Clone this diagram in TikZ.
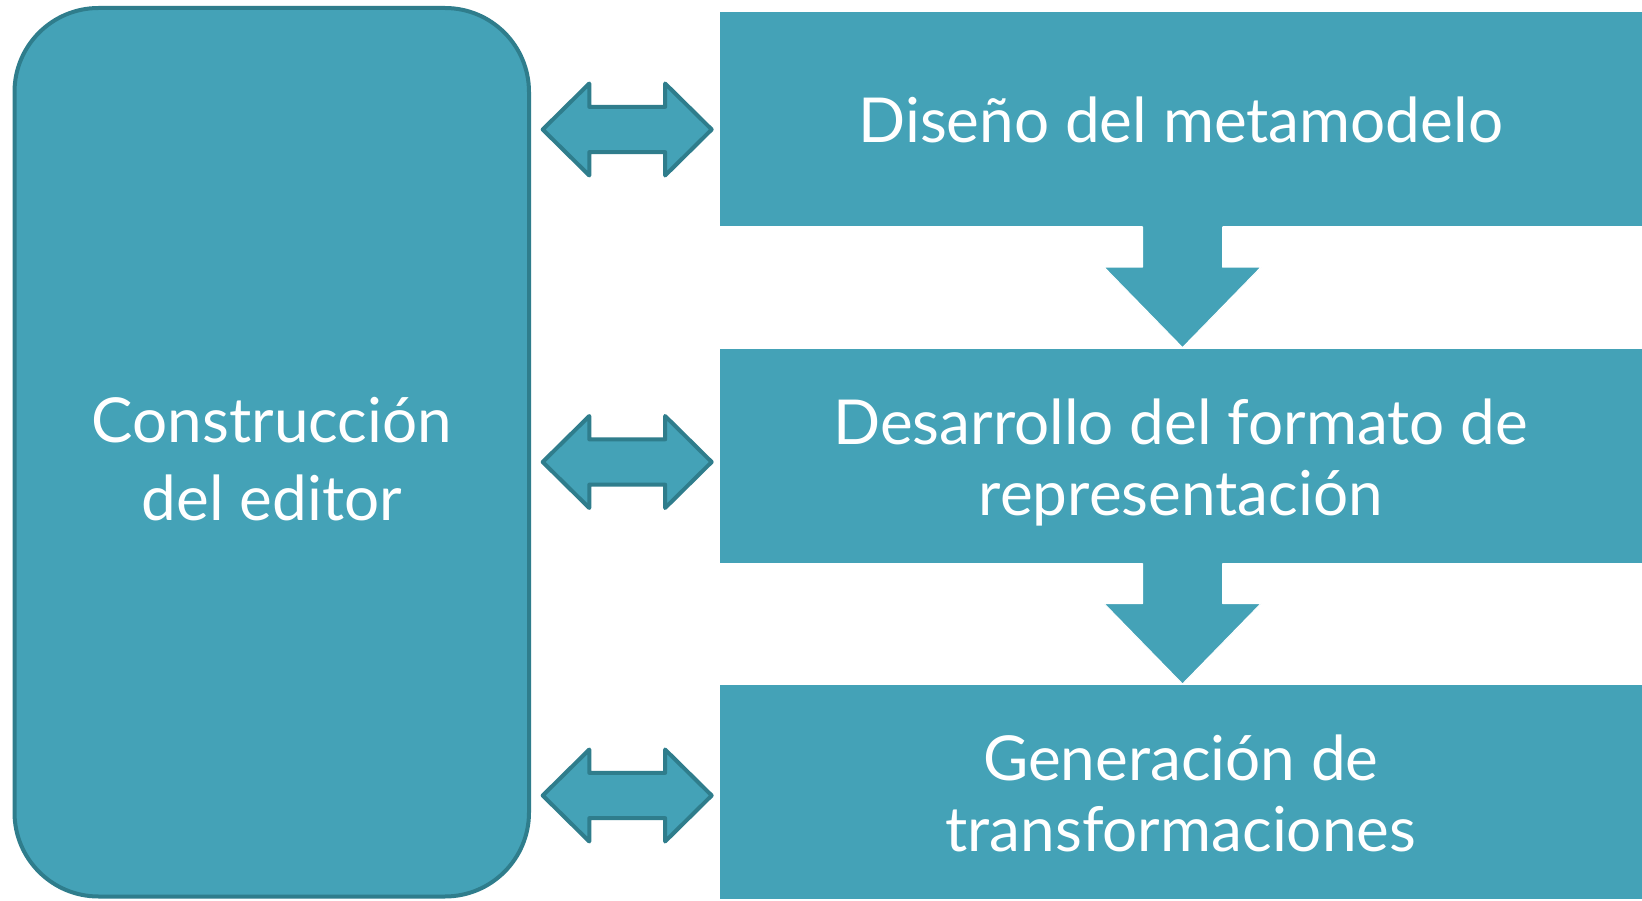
\documentclass[tikz,border=0pt]{standalone}
\usepackage{fontspec}
\setmainfont{Lato}
\definecolor{tealfill}{HTML}{44A2B7}
\definecolor{tealline}{HTML}{2F7D8C}
\tikzset{
  stepbox/.style={rectangle, fill=tealfill, draw=white, line width=0.8pt,
    minimum width=923pt, minimum height=215pt, inner sep=0pt, outer sep=0pt},
  editorbox/.style={rectangle, rounded corners=84pt, fill=tealfill, draw=tealline,
    line width=4pt, minimum width=514.5pt, minimum height=888.5pt, inner sep=0pt,
    outer sep=0pt},
  boxtext/.style={text=white, align=center, inner sep=0pt,
    font=\fontsize{62}{71}\selectfont},
  edtext/.style={boxtext, font=\fontsize{62}{78}\selectfont},
  arrowshape/.style={fill=tealfill, draw=tealline, line width=4pt, line join=round},
  dblarrow/.pic={
    \draw[arrowshape] (-84.5,0) -- (-37.9,-46) -- (-37.9,-22.6) -- (37.9,-22.6)
      -- (37.9,-46) -- (84.5,0) -- (37.9,46) -- (37.9,22.6) -- (-37.9,22.6)
      -- (-37.9,46) -- cycle;
  },
  downarrow/.pic={
    \fill[tealfill] (-40,-4) -- (-40,40.5) -- (-78.5,40.5) -- (0,121)
      -- (78.5,40.5) -- (40,40.5) -- (40,-4) -- cycle;
    \draw[white, line width=1pt, line join=round] (-40,0.4) -- (-40,40.5) -- (-78.5,40.5)
      -- (0,121) -- (78.5,40.5) -- (40,40.5) -- (40,0.4);
  }
}
\begin{document}
\begin{tikzpicture}[x=1pt,y=-1pt]
\useasboundingbox[fill=white] (0,0) rectangle (1642,901);
\node[editorbox, label={[edtext, yshift=-6.5pt]center:{Construcción\\del editor}}]
  (editor) at (271.75,452.25) {};
\node[stepbox, label={[boxtext, yshift=-1pt]center:{Diseño del metamodelo}}]
  (meta) at (1180.75,119.1) {};
\node[stepbox, label={[boxtext, yshift=-6.5pt]center:{Desarrollo del formato de\\representación}}]
  (formato) at (1180.75,455.5) {};
\node[stepbox, label={[boxtext, yshift=-1.5pt]center:{Generación de\\transformaciones}}]
  (transf) at (1180.75,792) {};
\pic (d1) at ([xshift=1.75pt]meta.south) {downarrow};
\pic (d2) at ([xshift=1.75pt]formato.south) {downarrow};
\pic (a1) at (627.2,129.5) {dblarrow};
\pic (a2) at (627.2,462) {dblarrow};
\pic (a3) at (627.2,795.5) {dblarrow};
\end{tikzpicture}
\end{document}
